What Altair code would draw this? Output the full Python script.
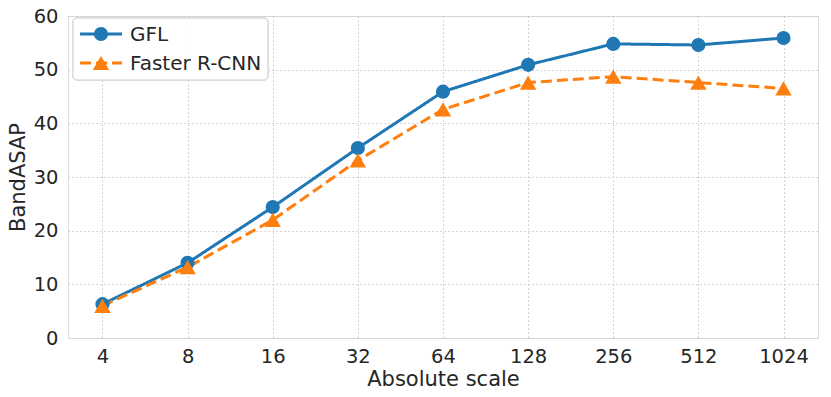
import altair as alt
import pandas as pd

scales = ["4", "8", "16", "32", "64", "128", "256", "512", "1024"]
gfl = [6.3, 14.0, 24.4, 35.4, 45.9, 50.9, 54.8, 54.6, 55.9]
frcnn = [6.0, 13.2, 22.0, 33.1, 42.6, 47.6, 48.7, 47.6, 46.5]
series = ["GFL", "Faster R-CNN"]
colors = ["#1f77b4", "#ff7f0e"]
shapes = ["circle", "triangle-up"]
sizes = [200, 270]
dashes = [[1, 0], [11, 5]]

rows = []
for s, vals in zip(series, [gfl, frcnn]):
    for x, v in zip(scales, vals):
        rows.append({"scale": x, "value": v, "series": s})
df = pd.DataFrame(rows)

FONT = "DejaVu Sans"
TXT = "#262626"

x_enc = alt.X("scale:O", sort=scales, title="Absolute scale",
              scale=alt.Scale(type="point", padding=0.405),
              axis=alt.Axis(labelAngle=0, labelFontSize=19.5, titleFontSize=21,
                            labelPadding=9, titlePadding=3, ticks=False, domain=False,
                            grid=True, gridDash=[1.5, 2.5], gridColor="#c8c8c8",
                            labelColor=TXT, titleColor=TXT, labelFont=FONT, titleFont=FONT,
                            titleFontWeight="normal"))
y_enc = alt.Y("value:Q", title="BandASAP",
              scale=alt.Scale(domain=[0, 60], nice=False, zero=True),
              axis=alt.Axis(values=[0, 10, 20, 30, 40, 50, 60], labelFontSize=19.5, titleFontSize=21,
                            labelPadding=10, titlePadding=5, ticks=False, domain=False,
                            grid=True, gridDash=[1.5, 2.5], gridColor="#c8c8c8",
                            labelColor=TXT, titleColor=TXT, labelFont=FONT, titleFont=FONT,
                            titleFontWeight="normal"))

color = alt.Color("series:N", scale=alt.Scale(domain=series, range=colors), legend=None)

base = alt.Chart(df)
lines = base.mark_line(strokeWidth=3).encode(
    x=x_enc, y=y_enc, color=color,
    strokeDash=alt.StrokeDash("series:N", scale=alt.Scale(domain=series, range=dashes), legend=None),
)
points = base.mark_point(filled=True, opacity=1).encode(
    x=x_enc, y=y_enc, color=color,
    shape=alt.Shape("series:N", scale=alt.Scale(domain=series, range=shapes), legend=None),
    size=alt.Size("series:N", scale=alt.Scale(domain=series, range=sizes), legend=None),
)

# manual legend (matplotlib style)
leg_df = pd.DataFrame({"series": series})
box = alt.Chart(leg_df).mark_rect(fill="white", fillOpacity=0.85, stroke="#d0d0d0",
                                  strokeWidth=1, cornerRadius=4).encode(
    x=alt.value(5), x2=alt.value(200), y=alt.value(2), y2=alt.value(64))

leg_layers = [box]
row_y = [18, 47]
for i, s in enumerate(series):
    d = pd.DataFrame({"series": [s]})
    leg_layers.append(alt.Chart(d).mark_rule(strokeWidth=3, color=colors[i],
                                             strokeDash=dashes[i]).encode(
        x=alt.value(12), x2=alt.value(54), y=alt.value(row_y[i])))
    leg_layers.append(alt.Chart(d).mark_point(filled=True, opacity=1, size=sizes[i],
                                              color=colors[i], shape=shapes[i]).encode(
        x=alt.value(33), y=alt.value(row_y[i])))
    leg_layers.append(alt.Chart(d).mark_text(align="left", baseline="middle", fontSize=20,
                                             font=FONT, color=TXT).encode(
        x=alt.value(62), y=alt.value(row_y[i] + 1), text="series:N"))

chart = alt.layer(lines, points, *leg_layers).properties(
    width=750, height=322,
    padding={"left": 60, "top": 8, "right": 5, "bottom": 58},
    autosize=alt.AutoSizeParams(type="none"),
).configure_view(stroke=TXT, strokeWidth=1.5).configure(background="white")

chart.save("out.html", embed_options={"renderer": "svg", "actions": False})
